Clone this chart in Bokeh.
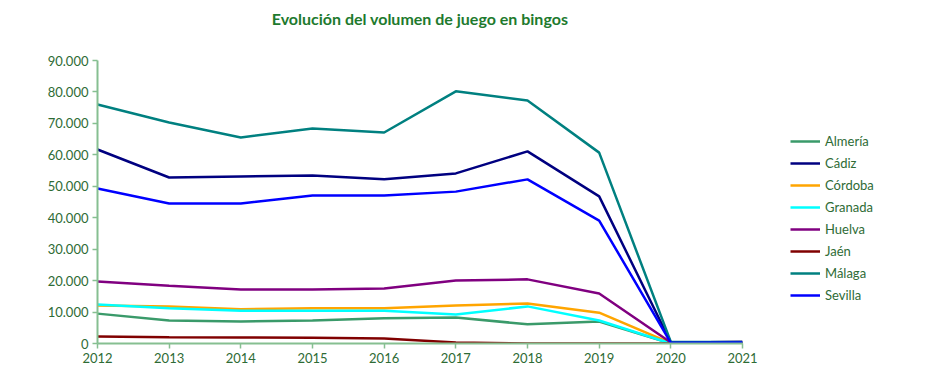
from bokeh.plotting import figure
from bokeh.models import FixedTicker, Legend, LegendItem, Title
from bokeh.embed import file_html
from bokeh.resources import INLINE

years = [2012, 2013, 2014, 2015, 2016, 2017, 2018, 2019, 2020, 2021]
almeria = [9500, 7300, 7000, 7300, 8000, 8300, 6100, 7000, 0, 0]
cadiz = [61700, 52800, 53100, 53400, 52200, 54100, 61100, 46800, 300, 500]
cordoba = [12100, 11800, 10900, 11200, 11200, 12100, 12700, 9800, 100, 0]
granada = [12400, 11200, 10400, 10400, 10400, 9200, 11800, 7300, 0, 0]
huelva = [19700, 18400, 17200, 17200, 17500, 20000, 20400, 15900, 300, 500]
jaen = [2200, 2000, 1900, 1800, 1600, 300, 0, 0, 0, 0]
malaga = [76000, 70300, 65500, 68400, 67100, 80200, 77300, 60700, 500, 500]
sevilla = [49300, 44500, 44500, 47100, 47100, 48300, 52200, 39100, 200, 300]

series = [
    ("Almería", almeria, "#3a9a6a"),
    ("Cádiz", cadiz, "#000080"),
    ("Córdoba", cordoba, "#ffa500"),
    ("Granada", granada, "#00ffff"),
    ("Huelva", huelva, "#800080"),
    ("Jaén", jaen, "#800000"),
    ("Málaga", malaga, "#008080"),
    ("Sevilla", sevilla, "#0000ff"),
]
y_ticks = [0, 10000, 20000, 30000, 40000, 50000, 60000, 70000, 80000, 90000]
y_labels = ["0", "10.000", "20.000", "30.000", "40.000", "50.000", "60.000", "70.000", "80.000", "90.000"]
title_text = "Evolución del volumen de juego en bingos"

FONT = "Lato"
TXT = "#2e6b35"
AX = "#86bf91"
FW, FH = 645, 283

p = figure(frame_width=FW, frame_height=FH, output_backend="svg", toolbar_location=None,
           x_range=(2012, 2021), y_range=(0, 90000),
           min_border_left=97, min_border_right=10, min_border_top=60, min_border_bottom=25)
p.title = None
p.outline_line_color = None
p.xgrid.visible = False
p.ygrid.visible = False

items = []
for name, vals, col in series:
    r = p.line(years, vals, line_color=col, line_width=2.5)
    items.append(LegendItem(label=name, renderers=[r]))

p.xaxis.ticker = FixedTicker(ticks=years)
p.yaxis.ticker = FixedTicker(ticks=y_ticks)
p.yaxis.major_label_overrides = {t: l for t, l in zip(y_ticks, y_labels)}
for ax in (p.xaxis, p.yaxis):
    ax.axis_line_color = AX
    ax.axis_line_width = 2
    ax.major_tick_line_color = AX
    ax.major_tick_line_width = 1.5
    ax.major_tick_in = 0
    ax.major_tick_out = 5
    ax.minor_tick_line_color = None
    ax.major_label_text_font = FONT
    ax.major_label_text_font_size = "13px"
    ax.major_label_text_color = TXT
    ax.major_label_standoff = 4

legend = Legend(items=items, location=(48, 40), label_text_font=FONT,
                label_text_font_size="13px", label_text_color=TXT,
                glyph_width=30, glyph_height=14, label_standoff=5,
                spacing=6, padding=0, margin=0, border_line_color=None,
                background_fill_alpha=0, label_height=14)
p.add_layout(legend, "right")

spacer = Title(text=" ", text_font_size="28px", standoff=0)
p.add_layout(spacer, "above")

t = Title(text=title_text, align="center",
          text_font=FONT, text_font_size="16px", text_font_style="bold",
          text_color="#1e7a2e", offset=0, standoff=0)
p.add_layout(t, "above")

open("out.html", "w").write(file_html(p, INLINE))
